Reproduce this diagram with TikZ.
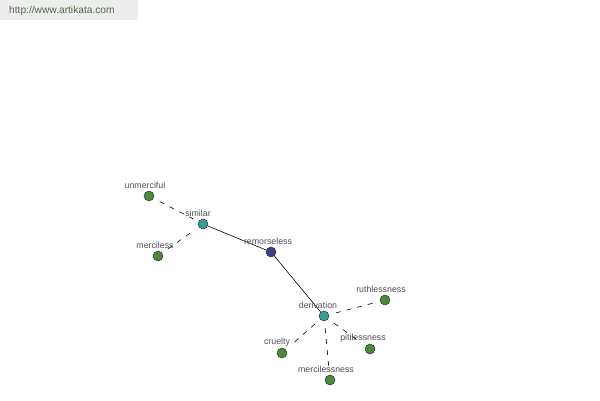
\documentclass[tikz,border=0pt]{standalone}
\usepackage{fontspec}
\setmainfont{Liberation Sans}
\definecolor{ngreen}{HTML}{4A8A3A}
\definecolor{nteal}{HTML}{3A9A95}
\definecolor{nnavy}{HTML}{3A3F8A}
\definecolor{lbl}{HTML}{505050}
\definecolor{urlc}{HTML}{4F6A45}
\begin{document}
\begin{tikzpicture}[x=1pt,y=-1pt,
  dot/.style={circle,draw=black!80,line width=0.5pt,minimum size=10pt,inner sep=0pt},
  lab/.style={font=\fontsize{8.8}{10}\selectfont,text=lbl,inner sep=0pt},
  dashline/.style={draw=black,line width=0.6pt,dash pattern=on 5pt off 6pt,shorten <=7pt,shorten >=6pt},
  solidline/.style={draw=black,line width=0.6pt}]
\useasboundingbox (0,0) rectangle (600,400);
\fill[white] (0,0) rectangle (600,400);
\fill[black!7] (0,0) rectangle (138,20);
\node[anchor=west,font=\fontsize{10.2}{12}\selectfont,text=urlc,inner sep=0pt] (url) at (9,11) {http://www.artikata.com};
% nodes
\node[dot,fill=ngreen] (unmerciful) at (149,196) {};
\node[dot,fill=nteal] (similar) at (203,224) {};
\node[dot,fill=ngreen] (merciless) at (158,256) {};
\node[dot,fill=nnavy] (remorseless) at (271,252) {};
\node[dot,fill=nteal] (derivation) at (324,316) {};
\node[dot,fill=ngreen] (ruthlessness) at (385,300) {};
\node[dot,fill=ngreen] (pitilessness) at (370,349) {};
\node[dot,fill=ngreen] (cruelty) at (282,353) {};
\node[dot,fill=ngreen] (mercilessness) at (330,380) {};
% edges
\draw[solidline] (similar) -- (remorseless);
\draw[solidline] (remorseless) -- (derivation);
\draw[dashline] (unmerciful) -- (similar);
\draw[dashline] (merciless) -- (similar);
\draw[dashline] (derivation) -- (ruthlessness);
\draw[dashline] (derivation) -- (pitilessness);
\draw[dashline] (derivation) -- (cruelty);
\draw[dashline] (derivation) -- (mercilessness);
% labels
\node[lab] (l1) at (145,185) {unmerciful};
\node[lab] (l2) at (198,213) {similar};
\node[lab] (l3) at (155,245) {merciless};
\node[lab] (l4) at (268,241) {remorseless};
\node[lab] (l5) at (318,305) {derivation};
\node[lab] (l6) at (381,289) {ruthlessness};
\node[lab] (l7) at (363,338) {pitilessness};
\node[lab] (l8) at (277,342) {cruelty};
\node[lab] (l9) at (326,369) {mercilessness};
\end{tikzpicture}
\end{document}
